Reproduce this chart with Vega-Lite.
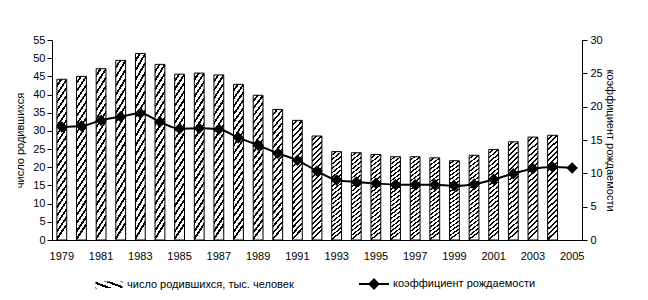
{
  "$schema": "https://vega.github.io/schema/vega-lite/v6.json",
  "width": 530,
  "height": 200,
  "autosize": {"type": "none"},
  "padding": {"left": 52, "top": 40, "right": 66, "bottom": 60},
  "background": "white",
  "config": {
    "view": {"stroke": null},
    "font": "Liberation Sans",
    "axis": {"labelFont": "Liberation Sans", "labelFontSize": 11, "labelColor": "black", "titleFont": "Liberation Sans", "titleFontSize": 11, "titleFontWeight": "normal", "titleColor": "black", "domainColor": "black", "tickColor": "black", "grid": false},
    "legend": {"labelFont": "Liberation Sans", "labelFontSize": 11, "labelColor": "black", "labelLimit": 0}
  },
  "data": {"values": [
    {"year": "1979", "births": 44.2, "rate": 16.95},
    {"year": "1980", "births": 45.0, "rate": 17.1},
    {"year": "1981", "births": 47.1, "rate": 17.95},
    {"year": "1982", "births": 49.4, "rate": 18.5},
    {"year": "1983", "births": 51.3, "rate": 19.0},
    {"year": "1984", "births": 48.3, "rate": 17.7},
    {"year": "1985", "births": 45.6, "rate": 16.7},
    {"year": "1986", "births": 45.9, "rate": 16.75},
    {"year": "1987", "births": 45.4, "rate": 16.6},
    {"year": "1988", "births": 42.8, "rate": 15.35},
    {"year": "1989", "births": 39.8, "rate": 14.2},
    {"year": "1990", "births": 35.9, "rate": 13.0},
    {"year": "1991", "births": 32.9, "rate": 11.95},
    {"year": "1992", "births": 28.6, "rate": 10.35},
    {"year": "1993", "births": 24.3, "rate": 9.0},
    {"year": "1994", "births": 24.0, "rate": 8.7},
    {"year": "1995", "births": 23.5, "rate": 8.5},
    {"year": "1996", "births": 22.9, "rate": 8.3},
    {"year": "1997", "births": 22.9, "rate": 8.3},
    {"year": "1998", "births": 22.6, "rate": 8.3},
    {"year": "1999", "births": 21.8, "rate": 8.1},
    {"year": "2000", "births": 23.3, "rate": 8.35},
    {"year": "2001", "births": 24.9, "rate": 9.1},
    {"year": "2002", "births": 27.0, "rate": 9.95},
    {"year": "2003", "births": 28.3, "rate": 10.7},
    {"year": "2004", "births": 28.8, "rate": 10.95},
    {"year": "2005", "births": null, "rate": 10.8}
  ]},
  "encoding": {
    "x": {"field": "year", "type": "ordinal", "scale": {"paddingInner": 0.5, "paddingOuter": 0.25},
      "axis": {"title": null, "labelAngle": 0, "ticks": false, "labelPadding": 10, "values": ["1979","1981","1983","1985","1987","1989","1991","1993","1995","1997","1999","2001","2003","2005"]}}
  },
  "layer": [
    {
      "mark": {"type": "bar", "stroke": "black", "strokeWidth": 1,
        "fill": {"gradient": "linear", "x1": 0, "y1": 0, "x2": 0.09, "y2": 1, "stops": [
            {"offset": 0.000, "color": "white"}, {"offset": 0.031, "color": "white"}, {"offset": 0.031, "color": "black"}, {"offset": 0.050, "color": "black"},
            {"offset": 0.050, "color": "white"}, {"offset": 0.081, "color": "white"}, {"offset": 0.081, "color": "black"}, {"offset": 0.100, "color": "black"},
            {"offset": 0.100, "color": "white"}, {"offset": 0.131, "color": "white"}, {"offset": 0.131, "color": "black"}, {"offset": 0.150, "color": "black"},
            {"offset": 0.150, "color": "white"}, {"offset": 0.181, "color": "white"}, {"offset": 0.181, "color": "black"}, {"offset": 0.200, "color": "black"},
            {"offset": 0.200, "color": "white"}, {"offset": 0.231, "color": "white"}, {"offset": 0.231, "color": "black"}, {"offset": 0.250, "color": "black"},
            {"offset": 0.250, "color": "white"}, {"offset": 0.281, "color": "white"}, {"offset": 0.281, "color": "black"}, {"offset": 0.300, "color": "black"},
            {"offset": 0.300, "color": "white"}, {"offset": 0.331, "color": "white"}, {"offset": 0.331, "color": "black"}, {"offset": 0.350, "color": "black"},
            {"offset": 0.350, "color": "white"}, {"offset": 0.381, "color": "white"}, {"offset": 0.381, "color": "black"}, {"offset": 0.400, "color": "black"},
            {"offset": 0.400, "color": "white"}, {"offset": 0.431, "color": "white"}, {"offset": 0.431, "color": "black"}, {"offset": 0.450, "color": "black"},
            {"offset": 0.450, "color": "white"}, {"offset": 0.481, "color": "white"}, {"offset": 0.481, "color": "black"}, {"offset": 0.500, "color": "black"},
            {"offset": 0.500, "color": "white"}, {"offset": 0.531, "color": "white"}, {"offset": 0.531, "color": "black"}, {"offset": 0.550, "color": "black"},
            {"offset": 0.550, "color": "white"}, {"offset": 0.581, "color": "white"}, {"offset": 0.581, "color": "black"}, {"offset": 0.600, "color": "black"},
            {"offset": 0.600, "color": "white"}, {"offset": 0.631, "color": "white"}, {"offset": 0.631, "color": "black"}, {"offset": 0.650, "color": "black"},
            {"offset": 0.650, "color": "white"}, {"offset": 0.681, "color": "white"}, {"offset": 0.681, "color": "black"}, {"offset": 0.700, "color": "black"},
            {"offset": 0.700, "color": "white"}, {"offset": 0.731, "color": "white"}, {"offset": 0.731, "color": "black"}, {"offset": 0.750, "color": "black"},
            {"offset": 0.750, "color": "white"}, {"offset": 0.781, "color": "white"}, {"offset": 0.781, "color": "black"}, {"offset": 0.800, "color": "black"},
            {"offset": 0.800, "color": "white"}, {"offset": 0.831, "color": "white"}, {"offset": 0.831, "color": "black"}, {"offset": 0.850, "color": "black"},
            {"offset": 0.850, "color": "white"}, {"offset": 0.881, "color": "white"}, {"offset": 0.881, "color": "black"}, {"offset": 0.900, "color": "black"},
            {"offset": 0.900, "color": "white"}, {"offset": 0.931, "color": "white"}, {"offset": 0.931, "color": "black"}, {"offset": 0.950, "color": "black"},
            {"offset": 0.950, "color": "white"}, {"offset": 0.975, "color": "white"}, {"offset": 0.975, "color": "black"}, {"offset": 0.995, "color": "black"},
            {"offset": 0.995, "color": "white"}, {"offset": 1.000, "color": "white"}
          ]}},
      "encoding": {
        "y": {"field": "births", "type": "quantitative", "scale": {"domain": [0, 55], "nice": false},
          "axis": {"title": "число родившихся", "values": [0,5,10,15,20,25,30,35,40,45,50,55], "tickSize": 5, "labelPadding": 2, "titlePadding": 7}},
        "opacity": {"datum": "число родившихся, тыс. человек", "type": "nominal", "scale": {"range": [1]},
          "legend": {"title": null, "orient": "none", "legendX": 43, "legendY": 231, "symbolType": "M-1,-0.26L1,-0.26L1,0.26L-1,0.26Z", "symbolSize": 729, "symbolStrokeColor": "black", "symbolStrokeWidth": 1, "labelOffset": 4}
        }
      }
    },
    {
      "mark": {"type": "line", "interpolate": "monotone", "strokeWidth": 2, "point": {"shape": "diamond", "size": 75, "filled": true, "fill": "black", "color": "black"}},
      "encoding": {
        "y": {"field": "rate", "type": "quantitative", "scale": {"domain": [0, 30], "nice": false},
          "axis": {"orient": "right", "title": "коэффициент рождаемости", "titleAngle": 90, "values": [0,5,10,15,20,25,30], "tickSize": 5, "labelPadding": 3, "titlePadding": 2}},
        "stroke": {"datum": "коэффициент рождаемости", "type": "nominal", "scale": {"range": ["black"]},
          "legend": {"title": null, "orient": "none", "legendX": 306, "legendY": 228, "symbolType": "M-1,0L1,0M0,-0.3L0.3,0L0,0.3L-0.3,0Z", "symbolSize": 900, "symbolStrokeWidth": 2, "symbolFillColor": "black", "labelOffset": 3}
        }
      }
    }
  ],
  "resolve": {"scale": {"y": "independent", "opacity": "independent", "stroke": "independent"}}
}
